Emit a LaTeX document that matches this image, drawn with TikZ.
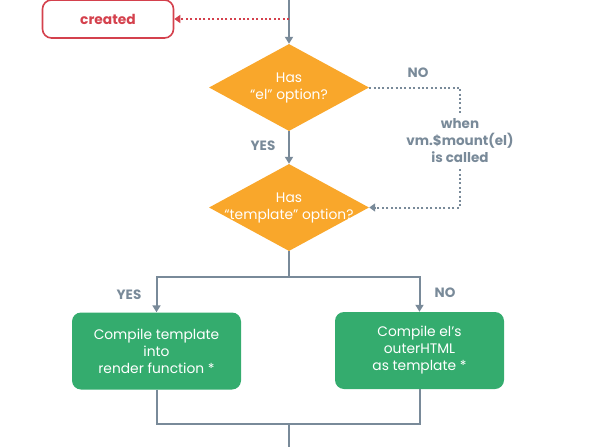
\documentclass[tikz,border=0pt]{standalone}
\usepackage{fontspec}
\setmainfont{Poppins}
\usetikzlibrary{shapes.geometric,arrows.meta}
\definecolor{lgray}{HTML}{798A99}
\definecolor{vred}{HTML}{D4414D}
\definecolor{vorange}{HTML}{F9A72B}
\definecolor{vgreen}{HTML}{34AC6E}
\begin{document}
\begin{tikzpicture}[x=1pt,y=-1pt,
  every node/.style={font=\fontsize{13.8}{17}\selectfont},
  conn/.style={draw=lgray,line width=2pt},
  arr/.style={conn,-{Triangle[width=8pt,length=7pt]}},
  dotconn/.style={draw=lgray,line width=2pt,dash pattern=on 2pt off 2.4pt},
  decision/.style={diamond,fill=vorange,inner sep=0pt,minimum width=160pt,minimum height=87pt},
  dtext/.style={text=white,align=center},
  process/.style={rectangle,rounded corners=9pt,fill=vgreen,text=white,align=center,minimum width=169pt,minimum height=77pt},
  lbl/.style={text=lgray,font=\fontsize{13.5}{17}\selectfont\bfseries}
  ]
\useasboundingbox (0,0) rectangle (592,447);
\node[draw=vred,line width=1.6pt,rounded corners=9pt,minimum width=131pt,minimum height=38pt,text=vred,font=\fontsize{13.8}{15}\selectfont\bfseries] (cr) at (108,19) {created};
\coordinate (top) at (289,-2);
\coordinate (j1) at (289,19);
\node[decision] (d1) at (289,87.5) {};
\node[dtext] at (d1) {Has\\“el” option?};
\node[decision] (d2) at (289,207.5) {};
\node[dtext] at (d2) {Has\\“template” option?};
\node[lbl,align=center,inner sep=6pt] (w) at (460,141) {when\\vm.\$mount(el)\\is called};
\node[lbl] (no1) at (418,73) {NO};
\node[lbl] (yes1) at (263,146) {YES};
\node[lbl] (yes2) at (129,295) {YES};
\node[lbl] (no2) at (445,293) {NO};
\node[process] (g1) at (156.5,351) {Compile template\\into\\render function *};
\node[process] (g2) at (419.5,350.5) {Compile el's\\outerHTML\\as template *};
\coordinate (b1) at (289,277);
\coordinate (b2) at (289,424);
\coordinate (bot) at (289,449);
\draw[arr] (top) -- (d1.north);
\draw[draw=vred,line width=2pt,dash pattern=on 2pt off 2.4pt,-{Triangle[width=8pt,length=6pt]}] (j1) -- (cr.east);
\draw[arr] (d1.south) -- (d2.north);
\draw[dotconn] (d1.east) -| (w.north);
\draw[dotconn,-{Triangle[width=8pt,length=6pt]}] (w.south) |- (d2.east);
\draw[conn] (d2.south) -- (b1);
\draw[arr] (b1) -| (g1.north);
\draw[arr] (b1) -| (g2.north);
\draw[conn] (g1.south) |- (b2);
\draw[conn] (g2.south) |- (b2);
\draw[conn] (b2) -- (bot);
\end{tikzpicture}
\end{document}
